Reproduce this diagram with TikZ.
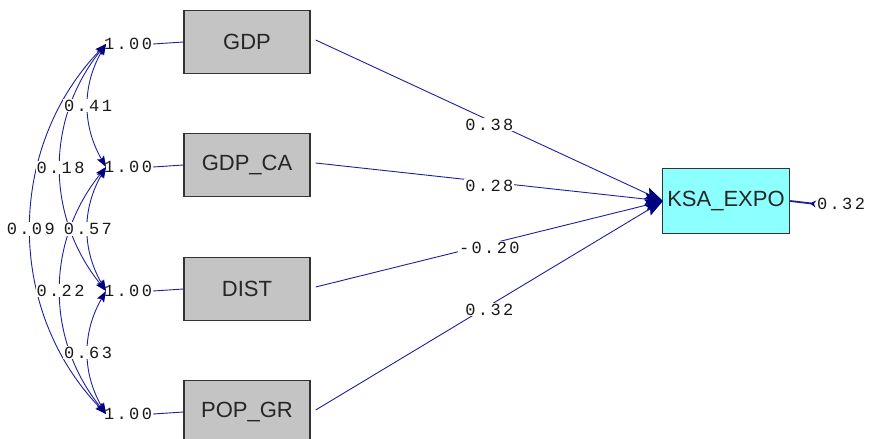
\documentclass[tikz,border=0pt]{standalone}
\usepackage{fontspec}
\setmainfont{Liberation Sans}
\newfontfamily\coeffont[LetterSpace=14]{Liberation Mono}
\usetikzlibrary{arrows.meta}

\definecolor{pathblue}{RGB}{30,30,160}
\definecolor{tipblue}{RGB}{0,0,128}
\definecolor{boxgray}{RGB}{196,196,196}
\definecolor{boxcyan}{RGB}{140,255,255}

\tikzstyle{varbox}=[draw=black!80,line width=1.4pt,fill=boxgray,minimum width=126pt,minimum height=63pt,inner sep=0pt,font=\fontsize{22}{24}\selectfont,text=black!85]
\tikzstyle{coef}=[font=\coeffont\fontsize{17}{19}\selectfont,inner sep=1pt,fill=white,text=black!90]
\tikzstyle{varlabel}=[font=\coeffont\fontsize{17}{19}\selectfont,inner sep=1pt,text=black!90]
\tikzstyle{regline}=[draw=pathblue,line width=0.9pt,-{Stealth[length=18pt,width=12pt,inset=3pt,color=tipblue]}]
\tikzstyle{covline}=[draw=pathblue,line width=0.9pt,{Stealth[length=11pt,width=8pt,inset=2pt,color=tipblue]}-{Stealth[length=11pt,width=8pt,inset=2pt,color=tipblue]}]

\begin{document}
\begin{tikzpicture}[x=1pt,y=-1pt]
      \useasboundingbox (0,0) rectangle (871,439);
      %% observed variables
      \foreach \nodename/\y/\caption in {gdp/42/GDP, gdpca/165/GDP\_CA, dist/289/DIST, popgr/412/POP\_GR}
      {
        \node (\nodename) at (247,\y) [varbox] {\caption};
        \node (v\nodename) at (128,\y+2) [varlabel] {1.00};
        \coordinate (c\nodename) at (106,\y+2);
        \draw[draw=pathblue,line width=0.9pt] (v\nodename.east) -- (\nodename.west);
      }
      \node (ksa) at (726,201) [varbox,fill=boxcyan,minimum width=127pt,minimum height=65pt] {KSA\_EXPO};
      \node (err) at (841,204) [varlabel] {0.32};
      \draw[draw=pathblue,line width=1.8pt,{Stealth[reversed,length=6pt,width=7pt,color=tipblue]}-] (err.west) -- (ksa.east);
      %% covariances
      \foreach \startnode/\endnode/\angle in {gdp/gdpca/30, gdp/dist/39, gdp/popgr/44,
        gdpca/dist/30, gdpca/popgr/39, dist/popgr/30}
      {
        \draw[covline] (c\startnode) to[bend right=\angle] (c\endnode);
      }
      \foreach \startnode/\endnode/\angle/\weight in {gdp/gdpca/30/0.41, gdp/dist/39/0.18,
        gdp/popgr/44/0.09, gdpca/dist/30/0.57, gdpca/popgr/39/0.22, dist/popgr/30/0.63}
      {
        \path (c\startnode) to[bend right=\angle] node[coef] {\weight} (c\endnode);
      }
      %% paths to KSA_EXPO
      \coordinate (tip) at (663,201);
      \foreach \startnode/\weight in {gdp/0.38, gdpca/0.28, dist/-0.20, popgr/0.32}
      {
        \draw[regline] ([xshift=5pt,yshift=2pt]\startnode.east) -- node[coef,pos=0.5,yshift=-4pt] {\weight} (tip);
      }
\end{tikzpicture}
\end{document}
